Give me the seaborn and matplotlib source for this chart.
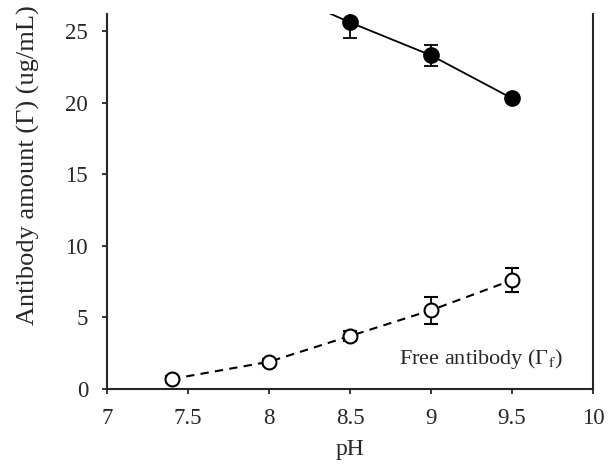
import numpy as np
import matplotlib
matplotlib.use("Agg")
import matplotlib.pyplot as plt
import pandas as pd
import seaborn as sns

# pH values and antibody amounts
ph = [7.4, 8.0, 8.5, 9.0, 9.5]
bound = [30.5, 28.1, 25.6, 23.3, 20.3]
bound_err = [0.0, 0.0, 1.1, 0.75, 0.2]
free = [0.7, 1.9, 3.7, 5.5, 7.6]
free_err = [0.2, 0.2, 0.35, 0.95, 0.85]

df = pd.DataFrame({"pH": ph, "bound": bound, "free": free})

sns.set_style("ticks")
plt.rcParams["font.family"] = ["Liberation Serif", "DejaVu Serif"]
plt.rcParams["mathtext.fontset"] = "stix"

fig = plt.figure(figsize=(6.1, 4.75), dpi=100)
ax = fig.add_axes([0.1754, 0.181, 0.7966, 0.79])

# bound antibody: solid line, filled circles
sns.lineplot(data=df, x="pH", y="bound", ax=ax, color="black", lw=1.3)
ax.errorbar(ph, bound, yerr=bound_err, fmt="o", color="black", ms=11,
            capsize=5, elinewidth=1.3, capthick=1.3, zorder=3)

# free antibody: dashed line, open circles
sns.lineplot(data=df, x="pH", y="free", ax=ax, color="black", lw=1.5,
             linestyle=(0, (4, 3)))
ax.errorbar(ph, free, yerr=free_err, fmt="o", color="black", mfc="white",
            mew=1.5, ms=10, capsize=5, elinewidth=1.3, capthick=1.3, zorder=3)

ax.text(9.31, 2.1, "Free antibody (Γ$_{\\rm f}$)", ha="center", va="center",
        fontsize=16)

ax.set_xlim(7, 10)
ax.set_ylim(0, 26.2)
ax.set_xticks([7, 7.5, 8, 8.5, 9, 9.5, 10])
ax.set_xticklabels(["7", "7.5", "8", "8.5", "9", "9.5", "10"])
ax.set_yticks([0, 5, 10, 15, 20, 25])
ax.tick_params(labelsize=16.5, length=3.6, width=1.3, direction="out")
ax.tick_params(axis="x", pad=10)
ax.tick_params(axis="y", pad=10)
for s in ["left", "bottom", "right"]:
    ax.spines[s].set_linewidth(1.5)
ax.spines["top"].set_visible(False)

ax.set_xlabel("pH", fontsize=17, labelpad=7)
ax.set_ylabel("")
fig.text(0.046, 1 - 325 / 475, "Antibody amount (Γ) (ug/mL)", rotation=90,
         ha="center", va="bottom", fontsize=19)

fig.savefig("out.png", dpi=100)
